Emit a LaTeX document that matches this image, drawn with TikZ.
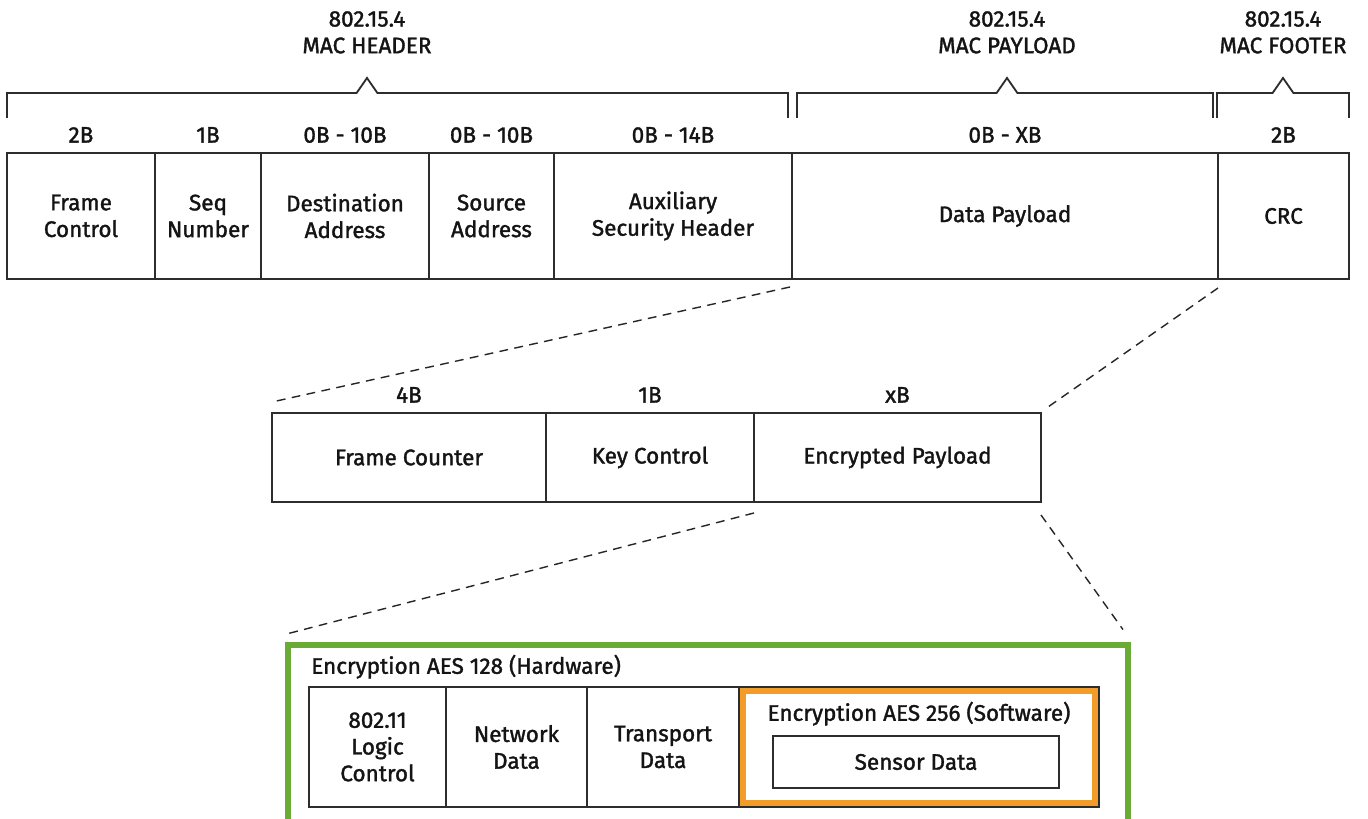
\documentclass[tikz,border=0pt]{standalone}
\usepackage{fontspec}
\setmainfont{Fira Sans}[FakeBold=1.5]
\definecolor{hwgreen}{RGB}{106,171,53}
\definecolor{swamber}{RGB}{242,156,44}
\definecolor{ink}{RGB}{45,45,45}

\begin{document}
\begin{tikzpicture}[
    x=1cm,y=1cm,
    every node/.style={font=\fontsize{16}{19}\selectfont, text=black!92},
    cell/.style={draw=ink, line width=1.3pt, outer sep=0pt, inner sep=0pt, align=center},
    toprow/.style={cell, minimum height=3.15cm},
    midrow/.style={cell, minimum height=2.225cm},
    lowrow/.style={cell, minimum height=3.0cm},
    bytes/.style={anchor=base, inner sep=0pt},
    title/.style={anchor=south, inner sep=0pt, align=center},
    bracket/.style={draw=ink, line width=1.3pt},
    zoomline/.style={draw=black!85, line width=1pt, dash pattern=on 0.22cm off 0.16cm},
    hwbox/.style={draw=hwgreen, line width=4.3pt, outer sep=0pt, inner sep=0pt},
    swband/.style={draw=swamber, line width=4.3pt}
]
    \useasboundingbox (0,0) rectangle (34.2,20.475);
    \clip (0,0) rectangle (33.78,20.475);

    % 802.15.4 frame
    \node[toprow, minimum width=3.7cm]   (fc)  at (2.025,15.075)   {Frame\\Control};
    \node[toprow, minimum width=2.65cm]  (sq)  at (5.2,15.075)     {Seq\\Number};
    \node[toprow, minimum width=4.2cm]   (dst) at (8.625,15.075)   {Destination\\Address};
    \node[toprow, minimum width=3.125cm] (src) at (12.2875,15.075) {Source\\Address};
    \node[toprow, minimum width=5.95cm]  (aux) at (16.825,15.075)  {Auxiliary\\Security Header};
    \node[toprow, minimum width=10.65cm] (pay) at (25.125,15.075)  {Data Payload};
    \node[toprow, minimum width=3.275cm] (crc) at (32.0875,15.075) {CRC};

    \foreach \c/\t in {fc/2B, sq/1B, dst/0B - 10B, src/0B - 10B, aux/0B - 14B, pay/0B - XB, crc/2B}
        \node[bytes] (\c-b) at ([yshift=0.26cm]\c.north) {\t};

    % header / payload / footer brackets
    \foreach \l/\r/\p in {0.175/19.7/9.175, 19.925/30.325/25.175, 30.425/33.725/32.075}
        \draw[bracket] (\l,17.525) |- (\p-0.26,18.15) -- (\p,18.525) -- (\p+0.26,18.15) -| (\r,17.525);

    \node[title] (hdr) at (9.175,19.13)  {802.15.4\\MAC HEADER};
    \node[title] (pld) at (25.175,19.13) {802.15.4\\MAC PAYLOAD};
    \node[title] (ftr) at (32.075,19.13) {802.15.4\\MAC FOOTER};

    % auxiliary security fields
    \node[midrow, minimum width=6.85cm]  (cnt) at (10.225,9.0375)  {Frame Counter};
    \node[midrow, minimum width=5.2cm]   (key) at (16.25,9.0375)   {Key Control};
    \node[midrow, minimum width=7.175cm] (enc) at (22.4375,9.0375) {Encrypted Payload};

    \foreach \c/\t in {cnt/4B, key/1B, enc/xB}
        \node[bytes] (\c-b) at ([yshift=0.26cm]\c.north) {\t};

    % encrypted payload layers
    \node[hwbox, minimum width=21cm, minimum height=4.43cm] (hw) at (17.7,2.135) {};
    \node[anchor=base west, inner sep=0pt] (hwlbl) at (7.775,3.63) {Encryption AES 128 (Hardware)};

    \node[lowrow, minimum width=3.425cm] (llc) at (9.4375,1.8) {802.11\\Logic\\Control};
    \node[lowrow, minimum width=3.525cm] (net) at (12.9125,1.8) {Network\\Data};
    \node[lowrow, minimum width=3.8cm]   (trn) at (16.575,1.8)  {Transport\\Data};
    \node[lowrow, minimum width=9.0cm]   (sw)  at (22.975,1.8)  {};
    \draw[swband] ([shift={(0.095,0.095)}]sw.south west) rectangle ([shift={(-0.095,-0.095)}]sw.north east);
    \node[anchor=base, inner sep=0pt] (swlbl) at (22.975,2.456) {Encryption AES 256 (Software)};
    \node[cell, line width=1pt, minimum width=7.15cm, minimum height=1.3cm] (sen) at (22.9,1.425) {Sensor Data};

    % zoom-in guides
    \draw[zoomline] ([shift={(-0.05,-0.2)}]pay.south west) -- ([yshift=0.275cm]cnt.north west);
    \draw[zoomline] ([yshift=-0.225cm]crc.south west) -- ([shift={(0.175,0.15)}]enc.north east);
    \draw[zoomline] ([yshift=-0.275cm]enc.south west) -- ([yshift=0.285cm]hw.north west);
    \draw[zoomline] ([yshift=-0.325cm]enc.south east) -- ([shift={(-0.125,0.385)}]hw.north east);
\end{tikzpicture}
\end{document}
